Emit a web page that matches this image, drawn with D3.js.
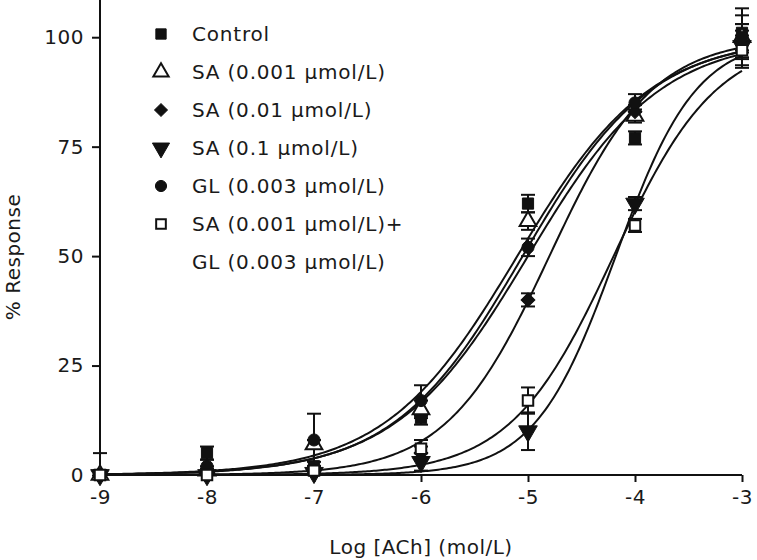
<!DOCTYPE html>
<html>
<head>
<meta charset="utf-8">
<script src="https://cdn.jsdelivr.net/npm/d3@7"></script>
<style>
  html, body { margin: 0; padding: 0; background: #fff; }
  svg text { font-family: "DejaVu Sans", sans-serif; fill: #1a1a1a; }
</style>
</head>
<body>
<svg id="chart" width="757" height="560"></svg>
<script>
// ---------------- DATA ----------------
const logConc = [-9, -8, -7, -6, -5, -4, -3];
const xTickValues = [-9, -8, -7, -6, -5, -4, -3];
const yTickValues = [0, 25, 50, 75, 100];
const seriesNames = [
  "Control",
  "SA (0.001 \u00b5mol/L)",
  "SA (0.01 \u00b5mol/L)",
  "SA (0.1 \u00b5mol/L)",
  "GL (0.003 \u00b5mol/L)",
  "SA (0.001 \u00b5mol/L)+"
];
const legendExtraLine = "GL (0.003 \u00b5mol/L)";
const markerTypes = ["squareFilled", "triangleOpen", "diamondFilled", "triangleDownFilled", "circleFilled", "squareOpen"];

const controlMean  = [0, 5, 2, 13, 62, 77, 101];
const sa0001Mean   = [0, 1, 7, 15, 58, 82, 100];
const sa001Mean    = [0, 0.5, 1, 5, 40, 83, 99];
const sa01Mean     = [0, 0, 0.5, 3, 10, 62, 98];
const glMean       = [0, 2, 8, 17, 52, 85, 100];
const saGlMean     = [0, 0, 1, 6, 17, 57, 97];

const controlErr = [1, 1.5, 1, 1.5, 2, 1.5, 5.6];
const sa0001Err  = [1, 1, 1, 2, 2, 1.5, 3];
const sa001Err   = [1, 1, 1, 1.5, 1.5, 1.5, 2.5];
const sa01Err    = [1, 1, 1, 2, 4.3, 1.5, 5];
const glErr      = [5, 1.5, 6, 3.5, 2, 2, 5];
const saGlErr    = [1, 1, 1, 2, 3, 1.5, 3.4];

// fitted sigmoid (Hill) parameters
const fitLogEC50 = [-5.1, -5.05, -4.8, -4.18, -5.0, -4.2];
const fitHill    = [0.70, 0.72, 0.90, 1.15, 0.70, 0.90];
const fitTop     = [100, 100, 100, 100, 100, 100];
const fitBottom  = [0, 0, 0, 0, 0, 0];

const means = [controlMean, sa0001Mean, sa001Mean, sa01Mean, glMean, saGlMean];
const errs  = [controlErr, sa0001Err, sa001Err, sa01Err, glErr, saGlErr];

// ---------------- CHART ----------------
const svg = d3.select("#chart");
const x = d3.scaleLinear().domain([-9, -3]).range([100, 742]);
const y = d3.scaleLinear().domain([0, 108.5]).range([475, 0]);

// curves
const curveX = d3.range(-9, -3 + 1e-9, 0.02);
const line = d3.line().x(d => x(d[0])).y(d => y(d[1]));
seriesNames.forEach((name, i) => {
  const pts = curveX.map(v => [v, fitBottom[i] + (fitTop[i] - fitBottom[i]) / (1 + Math.pow(10, (fitLogEC50[i] - v) * fitHill[i]))]);
  svg.append("path").attr("d", line(pts)).attr("fill", "none")
    .attr("stroke", "#111").attr("stroke-width", 2);
});

// axes
const yAxis = d3.axisLeft(y).tickValues(yTickValues).tickSize(8).tickPadding(8).tickFormat(d3.format("d"));
const xAxis = d3.axisBottom(x).tickValues(xTickValues).tickSize(7).tickPadding(8).tickFormat(d => d);

const gy = svg.append("g").attr("transform", "translate(100,0)").call(yAxis);
const gx = svg.append("g").attr("transform", "translate(0,475)").call(xAxis);
[gx, gy].forEach(g => {
  g.select(".domain").attr("stroke", "#111").attr("stroke-width", 2);
  g.selectAll(".tick line").attr("stroke", "#111").attr("stroke-width", 2);
  g.selectAll(".tick text").attr("font-size", 20).attr("letter-spacing", 0.5)
    .attr("font-family", "DejaVu Sans, sans-serif").attr("fill", "#222");
});
gx.select(".domain").attr("d", `M${x(-9)},0H${x(-3)}`);
gy.select(".domain").attr("d", `M0,${y(0)}V${y(108.5)}`);

// symbol helper
function drawMarker(g, type, cx, cy, scale) {
  const s = scale || 1;
  let sym, fill, rot = 0;
  switch (type) {
    case "squareFilled": sym = d3.symbol(d3.symbolSquare, 125 * s); fill = "#111"; break;
    case "squareOpen": sym = d3.symbol(d3.symbolSquare, 110 * s); fill = "#fff"; break;
    case "triangleOpen": sym = d3.symbol(d3.symbolTriangle, 120 * s); fill = "#fff"; break;
    case "triangleDownFilled": sym = d3.symbol(d3.symbolTriangle, 150 * s); fill = "#111"; rot = 180; break;
    case "diamondFilled": sym = d3.symbol(d3.symbolSquare, 95 * s); fill = "#111"; rot = 45; break;
    case "circleFilled": sym = d3.symbol(d3.symbolCircle, 115 * s); fill = "#111"; break;
  }
  g.append("path").attr("d", sym())
    .attr("transform", `translate(${cx},${cy}) rotate(${rot})`)
    .attr("fill", fill).attr("stroke", "#111")
    .attr("stroke-width", fill === "#fff" ? 2 : 1);
}

// error bars (lower arm clipped at the x axis)
const eg = svg.append("g");
means.forEach((m, i) => {
  m.forEach((v, j) => {
    const e = errs[i][j];
    const cx = x(logConc[j]);
    const lo = Math.max(0, v - e), hi = v + e;
    eg.append("line").attr("x1", cx).attr("x2", cx).attr("y1", y(lo)).attr("y2", y(hi))
      .attr("stroke", "#111").attr("stroke-width", 2);
    const caps = (v - e) >= 0 ? [v - e, hi] : [hi];
    caps.forEach(b => {
      eg.append("line").attr("x1", cx - 7).attr("x2", cx + 7).attr("y1", y(b)).attr("y2", y(b))
        .attr("stroke", "#111").attr("stroke-width", 2);
    });
  });
});

// markers
const mg = svg.append("g");
means.forEach((m, i) => {
  m.forEach((v, j) => drawMarker(mg, markerTypes[i], x(logConc[j]), y(v)));
});

// legend
const lg = svg.append("g");
const rowY = [34, 72, 110, 148, 186, 224];
seriesNames.forEach((name, i) => {
  drawMarker(lg, markerTypes[i], 161, rowY[i], 0.85);
  lg.append("text").attr("x", 192).attr("y", rowY[i]).attr("dy", "0.35em")
    .attr("font-size", 20).attr("letter-spacing", 0.8).text(name);
});
lg.append("text").attr("x", 192).attr("y", 262).attr("dy", "0.35em")
  .attr("font-size", 20).attr("letter-spacing", 0.8).text(legendExtraLine);

// axis titles
svg.append("text").attr("x", 421).attr("y", 547).attr("dy", "0.35em").attr("text-anchor", "middle")
  .attr("font-size", 20).attr("letter-spacing", 0.5).text("Log [ACh] (mol/L)");
svg.append("text").attr("transform", "translate(13,257) rotate(-90)").attr("dy", "0.35em")
  .attr("text-anchor", "middle").attr("font-size", 20).attr("letter-spacing", 0.5).text("% Response");
</script>
</body>
</html>
